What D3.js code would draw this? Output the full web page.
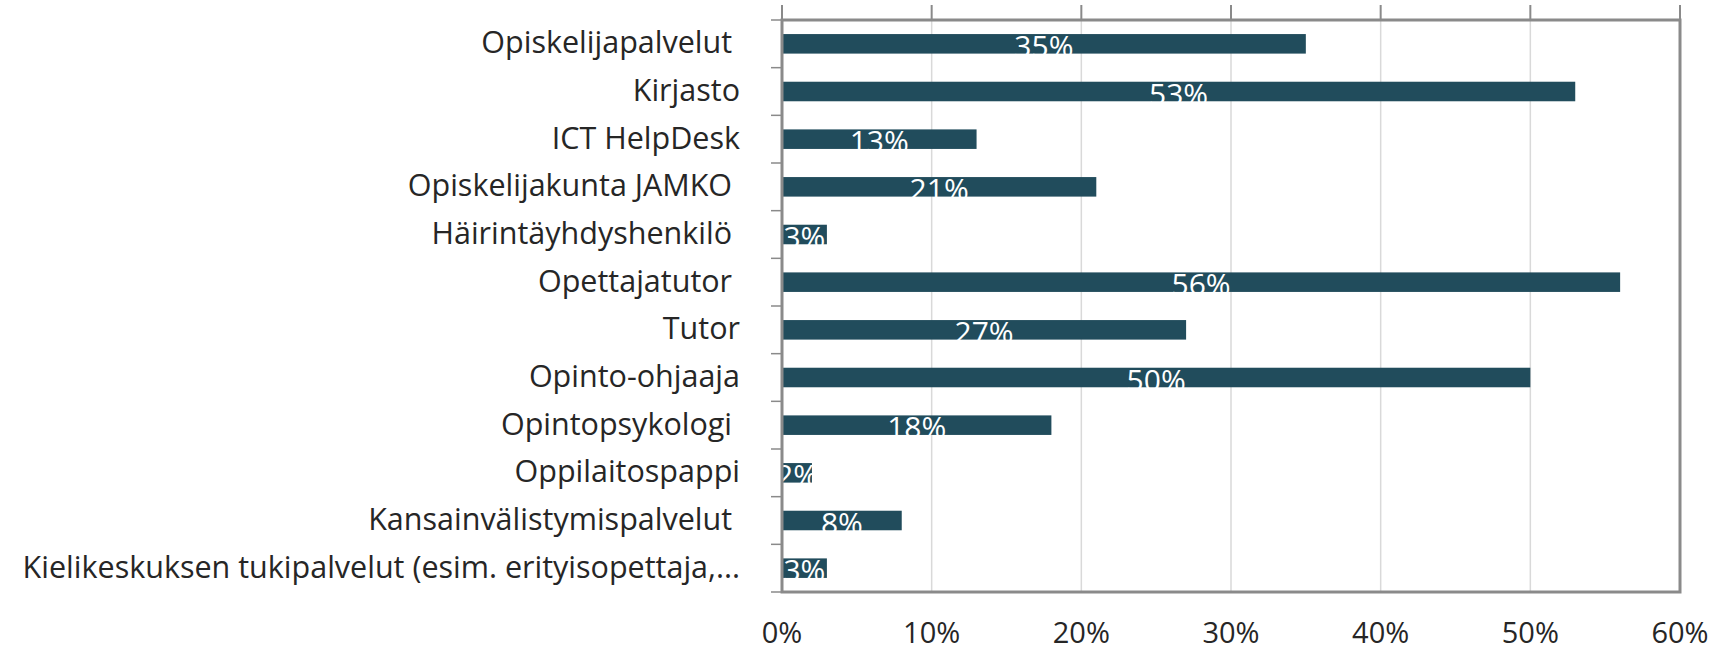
<!DOCTYPE html>
<html>
<head>
<meta charset="utf-8">
<script src="https://cdn.jsdelivr.net/npm/d3@7"></script>
<style>
	body { margin: 0; background: #fff; }
	svg text { font-family: "Open Sans", sans-serif; white-space: pre; }
</style>
</head>
<body>
<div id="chartContainer"></div>
<script>

// data (share of respondents, %)
let categories = [
	"Opiskelijapalvelut ",
	"Kirjasto",
	"ICT HelpDesk",
	"Opiskelijakunta JAMKO ",
	"Häirintäyhdyshenkilö ",
	"Opettajatutor ",
	"Tutor",
	"Opinto-ohjaaja",
	"Opintopsykologi ",
	"Oppilaitospappi",
	"Kansainvälistymispalvelut ",
	"Kielikeskuksen tukipalvelut (esim. erityisopettaja,..."
];

let values = [35, 53, 13, 21, 3, 56, 27, 50, 18, 2, 8, 3];

let xTicks = [0, 10, 20, 30, 40, 50, 60];


function init() {

	let canvasWidth 	= 1721,
		canvasHeight 	= 651;

	let plotLeft 	= 782,
		plotRight 	= 1680,
		plotTop 	= 20,
		plotBottom 	= 592;

	let barColor 	= "#214c5c",
		axisColor 	= "#8a8a8a",
		gridColor 	= "#d9d9d9",
		textColor 	= "#262626";

	let svg = d3.select("#chartContainer")
		.append("svg")
			.attr("width", canvasWidth)
			.attr("height", canvasHeight);

	let xScale = d3.scaleLinear()
		.domain([0, 60])
		.range([plotLeft, plotRight]);

	let yScale = d3.scaleBand()
		.domain(categories)
		.range([plotTop, plotBottom])
		.paddingInner(0.59)
		.paddingOuter(0.295);

	let bandStep = (plotBottom - plotTop) / categories.length;

	// gridlines
	svg.append("g")
		.selectAll("line")
		.data(xTicks.slice(1, -1))
			.enter()
				.append("line")
					.attr("x1", d => xScale(d))
					.attr("x2", d => xScale(d))
					.attr("y1", plotTop)
					.attr("y2", plotBottom)
					.style("stroke", gridColor)
					.style("stroke-width", 1.5);

	// top tick marks (above the frame)
	svg.append("g")
		.selectAll("line")
		.data(xTicks)
			.enter()
				.append("line")
					.attr("x1", d => xScale(d))
					.attr("x2", d => xScale(d))
					.attr("y1", plotTop - 15)
					.attr("y2", plotTop)
					.style("stroke", axisColor)
					.style("stroke-width", 2);

	// category tick marks on the left
	svg.append("g")
		.selectAll("line")
		.data(d3.range(categories.length + 1))
			.enter()
				.append("line")
					.attr("x1", plotLeft - 11)
					.attr("x2", plotLeft)
					.attr("y1", i => plotTop + i * bandStep)
					.attr("y2", i => plotTop + i * bandStep)
					.style("stroke", axisColor)
					.style("stroke-width", 1.5);

	// bars
	let barGroups = svg.append("g")
		.selectAll("g")
		.data(categories.map((c, i) => ({name: c, value: values[i]})))
			.enter()
				.append("g");

	barGroups.append("rect")
		.attr("x", xScale(0))
		.attr("y", d => yScale(d.name))
		.attr("width", d => xScale(d.value) - xScale(0))
		.attr("height", yScale.bandwidth())
		.style("fill", barColor);

	// value labels (white, centered in bar, sitting low)
	barGroups.append("text")
		.attr("x", d => (xScale(0) + xScale(d.value)) / 2)
		.attr("y", d => yScale(d.name) + yScale.bandwidth() / 2 + 13)
		.attr("text-anchor", "middle")
		.style("font-size", "30px")
		.style("fill", "#ffffff")
		.text(d => d.value + "%");

	// frame
	svg.append("rect")
		.attr("x", plotLeft)
		.attr("y", plotTop)
		.attr("width", plotRight - plotLeft)
		.attr("height", plotBottom - plotTop)
		.style("fill", "none")
		.style("stroke", axisColor)
		.style("stroke-width", 3);

	// category labels
	svg.append("g")
		.selectAll("text")
		.data(categories)
			.enter()
				.append("text")
					.attr("x", 740)
					.attr("y", d => yScale(d) + yScale.bandwidth() / 2 + 9.5)
					.attr("text-anchor", "end")
					.style("font-size", "30.5px")
					.style("fill", textColor)
					.text(d => d);

	// x axis labels
	svg.append("g")
		.selectAll("text")
		.data(xTicks)
			.enter()
				.append("text")
					.attr("x", d => xScale(d))
					.attr("y", 643)
					.attr("text-anchor", "middle")
					.style("font-size", "29px")
					.style("fill", textColor)
					.text(d => d + "%");
};

init();

</script>
</body>
</html>
